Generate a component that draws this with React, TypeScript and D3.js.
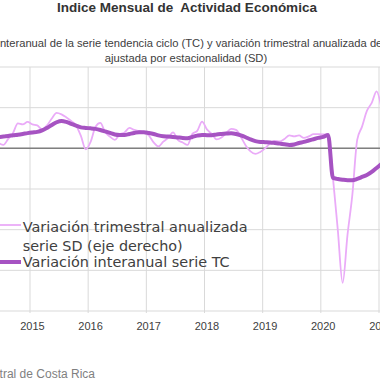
import React from "react";
import * as d3 from "d3";

// Monthly categories: 2014-06 .. 2021-01
const months: Date[] = d3.timeMonth.range(new Date(2014, 5, 1), new Date(2021, 1, 1));

// Variación interanual serie TC (left axis, %)
const tcValues = [
  1.38, 1.46, 1.52, 1.61, 1.68, 1.77, 1.87,
  1.95, 2.02, 2.2, 2.51, 2.88, 3.21, 3.37, 3.25, 3.02, 2.79, 2.58, 2.51,
  2.46, 2.39, 2.26, 2.08, 1.89, 1.71, 1.65, 1.65, 1.77, 1.89, 1.99, 1.98,
  1.89, 1.77, 1.59, 1.49, 1.45, 1.4, 1.34, 1.28, 1.25, 1.4, 1.56, 1.65,
  1.62, 1.61, 1.71, 1.77, 1.82, 1.86, 1.77, 1.59, 1.36, 1.09, 0.89, 0.79,
  0.76, 0.73, 0.66, 0.58, 0.5, 0.42, 0.48, 0.66, 0.79, 0.96, 1.12, 1.28,
  1.4, 1.65, -3.64, -3.76, -3.86, -3.92, -3.92, -3.76, -3.52, -3.27, -2.9, -2.41,
  -1.92,
];

// Variación trimestral anualizada serie SD (right axis, %)
const sdValues = [
  1.33, 0.84, 2.31, 3.79, 6.12, 5.88, 6.49,
  5.88, 5.63, 4.65, 5.63, 7.35, 8.7, 8.34, 7.6, 6.74, 5.63, 3.05, -0.27,
  1.57, 5.26, 6.25, 4.03, 2.88, 2.07, 3.42, 3.91, 5.02, 4.52, 4.28, 3.91,
  3.17, 1.45, 0.47, 1.65, 2.56, 3.91, 2.07, 1.45, 0.84, 3.54, 4.28, 6.56,
  4.65, 3.54, 2.19, 2.68, 3.79, 4.77, 4.52, 2.8, 0.71, -0.76, -1.38, -0.89,
  -0.02, 1.2, 1.82, 1.7, 2.31, 3.17, 2.93, 3.17, 2.56, 2.93, 3.47, 3.47,
  3.42, 3.29, -7.28, -20.06, -33.1, -21.29, -11.46, 2.07, 5.34, 9.2, 11.16, 13.99,
  9.93,
];

const yearLabels = ["2015", "2016", "2017", "2018", "2019", "2020", "2021"];
const leftTicks = [-20, -15, -10, -5, 0, 5, 10];

const title = "Indice Mensual de  Actividad Económica";
const subtitle1 =
  "Variación interanual de la serie tendencia ciclo (TC) y variación trimestral anualizada de la serie";
const subtitle2 = "ajustada por estacionalidad (SD)";
const legendSD1 = "Variación trimestral anualizada";
const legendSD2 = "serie SD (eje derecho)";
const legendTC = "Variación interanual serie TC";
const source = "Fuente: Banco Central de Costa Rica";

const W = 380;
const H = 380;
const TOP = 67;
const BOTTOM = 311;
const MONTH_W = (379 - 30) / 72;

const keyOf = (d: Date) => d3.timeFormat("%Y-%m")(d);

export default function App() {
  const x = d3
    .scaleBand<string>()
    .domain(months.map(keyOf))
    .range([30 - 7 * MONTH_W, 30 + 73 * MONTH_W])
    .padding(0);
  const cx = (d: Date) => (x(keyOf(d)) as number) + x.bandwidth() / 2;
  const yL = d3.scaleLinear().domain([-20, 10]).range([BOTTOM, TOP]);
  const yR = d3.scaleLinear().domain([-40, 20]).range([BOTTOM, TOP]);

  const lineTC = d3
    .line<number>()
    .x((_, i) => cx(months[i]))
    .y((v) => yL(v))
    .curve(d3.curveMonotoneX);
  const lineSD = d3
    .line<number>()
    .x((_, i) => cx(months[i]))
    .y((v) => yR(v))
    .curve(d3.curveMonotoneX);

  const yearStarts = months.filter((d) => d.getMonth() === 0);

  const darkColor = "#A653C2";
  const lightColor = "#EAABF8";
  const textColor = "#404040";

  return (
    <svg
      width={W}
      height={H}
      style={{ position: "fixed", left: 0, top: 0, background: "#fff" }}
      fontFamily="'Liberation Sans', Arial, sans-serif"
    >
      <rect x={0} y={0} width={W} height={H} fill="#fff" />
      <text
        x={187}
        y={12}
        textAnchor="middle"
        fontSize={13.5}
        fontWeight="bold"
        fill="#333"
        style={{ whiteSpace: "pre" }}
      >
        {title}
      </text>
      <text x={185} y={47} textAnchor="middle" fontSize={11.2} fill={textColor}>
        {subtitle1}
      </text>
      <text x={186} y={62} textAnchor="middle" fontSize={11.2} fill={textColor}>
        {subtitle2}
      </text>

      {/* horizontal gridlines */}
      {leftTicks.map((t) => (
        <line key={"h" + t} x1={-5} x2={W + 5} y1={yL(t)} y2={yL(t)} stroke="#D9D9D9" strokeWidth={1} />
      ))}
      {/* vertical gridlines */}
      {yearStarts.map((d) => (
        <line
          key={"v" + keyOf(d)}
          x1={x(keyOf(d)) as number}
          x2={x(keyOf(d)) as number}
          y1={TOP}
          y2={BOTTOM + 2}
          stroke="#D9D9D9"
          strokeWidth={1}
        />
      ))}
      {/* zero axis */}
      <line x1={-5} x2={W + 5} y1={yL(0)} y2={yL(0)} stroke="#7F7F7F" strokeWidth={1.5} />

      <path d={lineSD(sdValues) || ""} fill="none" stroke={lightColor} strokeWidth={1.8} />
      <path d={lineTC(tcValues) || ""} fill="none" stroke={darkColor} strokeWidth={4} strokeLinejoin="round" />

      {/* year labels */}
      {yearStarts.map((d, i) => (
        <text key={"yl" + i} x={cx(d)} y={330} textAnchor="middle" fontSize={11} fill={textColor}>
          {yearLabels[i]}
        </text>
      ))}

      {/* legend */}
      <g fontFamily="'DejaVu Sans', sans-serif" fontSize={14} fill={textColor}>
        <line x1={-2} x2={21} y1={225} y2={225} stroke={lightColor} strokeWidth={1.8} />
        <text x={22.7} y={231.7} textLength={225} lengthAdjust="spacingAndGlyphs">
          {legendSD1}
        </text>
        <text x={22.7} y={251} textLength={160} lengthAdjust="spacingAndGlyphs">
          {legendSD2}
        </text>
        <line x1={-2} x2={21} y1={262} y2={262} stroke={darkColor} strokeWidth={4} />
        <text x={22.7} y={266.7} textLength={207} lengthAdjust="spacingAndGlyphs">
          {legendTC}
        </text>
      </g>

      <text x={95} y={378} textAnchor="end" fontSize={12} fill="#7F7F7F">
        {source}
      </text>
    </svg>
  );
}
